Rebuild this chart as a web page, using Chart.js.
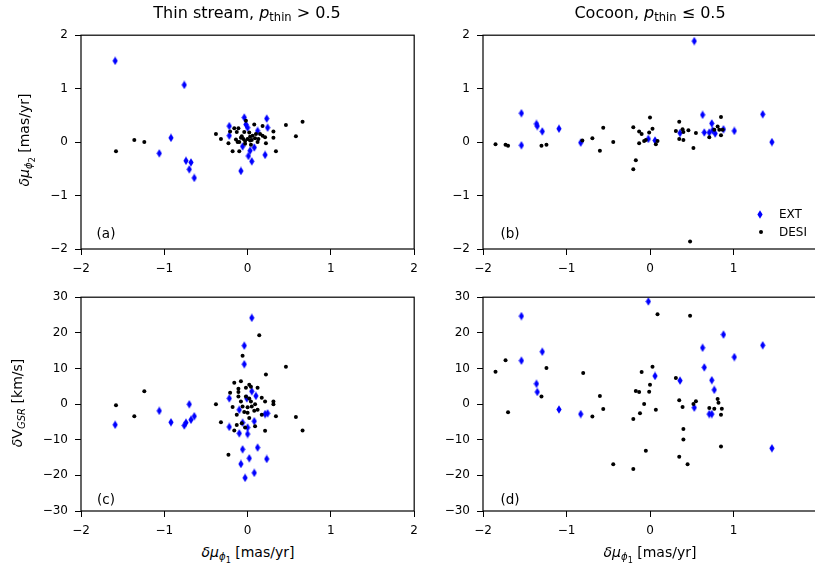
<!DOCTYPE html>
<html>
<head>
<meta charset="utf-8">
<script src="https://cdn.jsdelivr.net/npm/chart.js@4.4.0/dist/chart.umd.min.js"></script>
<style>
  html, body { margin: 0; padding: 0; background: #fff; overflow: hidden; }
  body { width: 815px; height: 569px; position: relative; font-family: "DejaVu Sans", sans-serif; color: #000; }
  canvas.panel { position: absolute; }
  .txt { position: absolute; white-space: nowrap; line-height: 1; transform: translate(-50%, -50%); }
  .left { transform: translate(0, -50%); }
  .rot { transform: translate(-50%, -50%) rotate(-90deg); }
  sub { font-size: 72%; vertical-align: -0.3em; line-height: 0; }
  sub sub { font-size: 80%; }
</style>
</head>
<body>
<canvas id="pa" class="panel"></canvas>
<canvas id="pb" class="panel"></canvas>
<canvas id="pc" class="panel"></canvas>
<canvas id="pd" class="panel"></canvas>

<div class="txt" style="left:247px;top:13px;font-size:16px">Thin stream, <i>p</i><sub>thin</sub> &gt; 0.5</div>
<div class="txt" style="left:650px;top:13px;font-size:16px">Cocoon, <i>p</i><sub>thin</sub> ≤ 0.5</div>

<div class="txt rot" style="left:25px;top:140px;font-size:14px"><i>δμ</i><sub><i>ϕ</i><sub>2</sub></sub> [mas/yr]</div>
<div class="txt rot" style="left:17px;top:403px;font-size:14px"><i>δ</i>V<sub><i>GSR</i></sub> [km/s]</div>
<div class="txt" style="left:248px;top:553px;font-size:14px"><i>δμ</i><sub><i>ϕ</i><sub>1</sub></sub> [mas/yr]</div>
<div class="txt" style="left:650px;top:553px;font-size:14px"><i>δμ</i><sub><i>ϕ</i><sub>1</sub></sub> [mas/yr]</div>

<div class="txt" style="left:106px;top:234px;font-size:13.5px">(a)</div>
<div class="txt" style="left:510px;top:234px;font-size:13.5px">(b)</div>
<div class="txt" style="left:106px;top:500px;font-size:13.5px">(c)</div>
<div class="txt" style="left:510px;top:500px;font-size:13.5px">(d)</div>

<div class="txt left" style="left:779px;top:214px;font-size:12px">EXT</div>
<div class="txt left" style="left:779px;top:232px;font-size:12px">DESI</div>

<script>
// panel (a): thin stream, proper motions
const aExtX = [-1.59, -0.76, -0.92, -1.06, -0.74, -0.68, -0.70, -0.64, -0.08, -0.04, -0.22, -0.22, 0.23, 0.24, 0.21, 0.05, 0.01, 0.03, 0.08, -0.02, 0.00, 0.12, -0.06];
const aExtY = [1.52, 1.07, 0.08, -0.21, -0.35, -0.38, -0.51, -0.67, -0.54, 0.46, 0.30, 0.12, 0.44, 0.27, -0.24, -0.36, -0.26, -0.16, -0.10, 0.33, 0.27, 0.21, -0.08];
const aDesiX = [-1.58, -1.36, -1.24, -0.38, -0.32, -0.23, -0.18, -0.10, -0.21, -0.16, -0.11, -0.13, -0.14, -0.10, -0.07, -0.04, -0.02, 0.02, 0.03, 0.05, 0.00, -0.03, -0.05, 0.08, 0.10, 0.13, 0.18, 0.18, 0.21, 0.22, 0.31, 0.31, 0.34, 0.46, 0.58, 0.66, 0.03, 0.09, -0.12, -0.03, 0.06, 0.12, -0.08, 0.15, 0.04];
const aDesiY = [-0.17, 0.04, 0.00, 0.15, 0.06, -0.02, -0.17, -0.17, 0.20, 0.26, 0.26, 0.19, 0.05, 0.00, 0.11, 0.19, 0.40, 0.18, 0.10, 0.04, 0.06, 0.02, 0.06, 0.33, 0.15, 0.06, 0.30, 0.12, 0.09, -0.02, 0.20, 0.08, -0.17, 0.32, 0.11, 0.38, 0.03, 0.07, 0.00, -0.03, 0.12, 0.00, 0.08, 0.15, -0.05];

// panel (b): cocoon, proper motions
const bExtX = [-1.54, -1.54, -1.36, -1.35, -1.29, -1.09, -0.83, -0.02, 0.06, 0.36, 0.53, 0.63, 0.65, 0.71, 0.74, 0.75, 0.78, 0.88, 1.01, 1.35, 1.46];
const bExtY = [0.54, -0.06, 0.34, 0.30, 0.20, 0.25, -0.01, 0.06, 0.03, 0.17, 1.89, 0.51, 0.18, 0.18, 0.35, 0.22, 0.16, 0.24, 0.21, 0.52, 0.00];
const bDesiX = [-1.85, -1.73, -1.70, -1.30, -1.24, -0.81, -0.69, -0.56, -0.60, -0.44, -0.20, -0.17, -0.20, -0.13, -0.10, -0.13, -0.07, -0.05, -0.01, 0.00, 0.03, 0.07, 0.09, 0.31, 0.35, 0.35, 0.39, 0.40, 0.40, 0.46, 0.52, 0.55, 0.48, 0.71, 0.77, 0.81, 0.83, 0.85, 0.85, 0.87];
const bDesiY = [-0.04, -0.05, -0.07, -0.07, -0.05, 0.03, 0.07, 0.27, -0.16, 0.00, 0.28, -0.34, -0.51, 0.20, 0.15, -0.02, 0.02, 0.04, 0.18, 0.46, 0.25, -0.04, 0.02, 0.21, 0.38, 0.06, 0.24, 0.19, 0.04, 0.22, -0.11, 0.17, -1.86, 0.09, 0.23, 0.29, 0.23, 0.47, 0.13, 0.23];

// panel (c): thin stream, GSR velocities
const cExtX = [-1.59, -1.06, -0.92, -0.76, -0.74, -0.68, -0.70, -0.64, 0.05, -0.04, -0.04, -0.22, -0.22, -0.10, 0.00, 0.00, -0.06, 0.12, 0.02, 0.23, -0.08, 0.08, -0.03, 0.21, 0.24, 0.08, 0.05, 0.10, -0.10, -0.06, -0.01];
const cExtY = [-5.8, -1.9, -5.1, -6.0, -5.2, -4.4, -0.05, -3.4, 24.2, 16.4, 11.2, 1.6, -6.4, -8.2, -8.4, -6.6, -12.7, -12.2, -15.2, -15.4, -16.8, -19.3, -20.7, -2.8, -2.6, -4.8, 3.6, 2.3, -1.6, -5.2, 1.6];
const cDesiX = [-1.58, -1.36, -1.24, -0.38, -0.32, -0.23, -0.16, -0.13, -0.16, -0.08, -0.06, 0.14, 0.22, 0.46, 0.34, 0.31, 0.31, 0.21, 0.58, 0.66, -0.21, -0.18, -0.11, -0.11, -0.11, -0.08, -0.06, -0.13, -0.07, -0.03, -0.02, 0.02, 0.04, 0.12, -0.02, 0.02, 0.04, 0.05, 0.09, 0.12, 0.08, 0.00, 0.02, 0.09, 0.17, 0.17, 0.21, -0.04, 0.00];
const cDesiY = [-0.3, -3.4, 3.6, -0.05, -5.1, -14.2, -7.4, -5.9, 6.0, 6.4, 13.6, 19.3, 8.3, 10.5, -3.4, 0.7, -0.05, -7.5, -3.6, -7.4, 3.2, -0.8, 4.3, 3.4, 2.1, 0.7, -0.7, -3.0, -5.4, -6.6, 4.6, 5.4, 4.9, 4.6, 2.1, 1.6, 0.7, -0.7, -0.05, -1.6, -1.9, -2.4, -3.9, -6.2, -3.0, 1.8, 0.7, -2.2, -0.9];

// panel (d): cocoon, GSR velocities
const dExtX = [-1.54, -1.54, -1.29, -1.36, -1.35, -1.09, -0.83, -0.02, 0.06, 0.36, 0.53, 0.63, 0.65, 0.74, 0.77, 0.71, 0.74, 0.88, 1.01, 1.35, 1.46];
const dExtY = [24.7, 12.2, 14.7, 5.7, 3.4, -1.5, -2.8, 28.8, 7.9, 6.6, -1.0, 15.8, 10.3, 6.7, 4.0, -2.8, -2.8, 19.5, 13.2, 16.5, -12.4];
const dDesiX = [-1.85, -1.73, -1.70, -1.30, -1.24, -0.80, -0.69, -0.60, -0.56, -0.44, -0.20, -0.20, -0.17, -0.13, -0.12, -0.10, -0.07, -0.05, -0.01, 0.00, 0.03, 0.07, 0.09, 0.31, 0.35, 0.39, 0.40, 0.40, 0.35, 0.45, 0.48, 0.52, 0.55, 0.71, 0.77, 0.81, 0.82, 0.86, 0.85, 0.85];
const dDesiY = [9.1, 12.3, -2.3, 2.1, 10.1, 8.7, -3.5, 2.3, -1.4, -16.9, -4.2, -18.2, 3.7, 3.4, -2.6, 9.0, 0.05, -13.1, 3.5, 5.4, 10.5, -1.6, 25.2, 7.3, 1.1, -0.8, -7.0, -9.9, -14.8, -16.9, 24.8, 0.0, 0.8, -1.1, -1.3, 1.4, 0.4, -1.3, -3.0, -11.9];

// axis limits and tick labels
const xRange = [-2, 2];
const xTicksLeft = [-2, -1, 0, 1, 2];
const xTicksRight = [-2, -1, 0, 1];   // the "2" tick falls outside the saved figure
const pmRange = [-2, 2];
const pmTicks = [-2, -1, 0, 1, 2];
const vRange = [-30, 30];
const vTicks = [-30, -20, -10, 0, 10, 20, 30];

// thin diamond marker like matplotlib 'd'
function diamond() {
  const c = document.createElement('canvas');
  c.width = 6; c.height = 9;
  const g = c.getContext('2d');
  g.fillStyle = '#0000ff';
  g.beginPath();
  g.moveTo(3, 0.3); g.lineTo(5.6, 4.5); g.lineTo(3, 8.7); g.lineTo(0.4, 4.5);
  g.closePath();
  g.fill();
  return c;
}
const extMarker = diamond();

// legend markers drawn the same way
(function legendMarks() {
  const d = diamond();
  d.style.cssText = 'position:absolute;left:757px;top:210px';
  document.body.appendChild(d);
  const dot = document.createElement('canvas');
  dot.width = 6; dot.height = 6;
  const g = dot.getContext('2d');
  g.fillStyle = '#000';
  g.beginPath(); g.arc(3, 3, 2, 0, Math.PI * 2); g.fill();
  dot.style.cssText = 'position:absolute;left:758px;top:229px';
  document.body.appendChild(dot);
})();

// full box around each plot area, like matplotlib spines
const frame = {
  id: 'frame',
  afterDraw(chart) {
    const { ctx, chartArea: a } = chart;
    ctx.save();
    ctx.strokeStyle = '#000';
    ctx.lineWidth = 1.2;
    ctx.strokeRect(a.left, a.top, a.right - a.left, a.bottom - a.top);
    ctx.restore();
  }
};

const fmt = v => String(v).replace('-', '\u2212');
const pts = (xs, ys) => xs.map((x, i) => ({ x: x, y: ys[i] }));

function axis(range, vals, fixed, isX) {
  return {
    type: 'linear',
    min: range[0],
    max: range[1],
    afterBuildTicks: s => { s.ticks = vals.map(v => ({ value: v })); },
    afterFit: s => { if (isX) s.height = fixed; else s.width = fixed; },
    ticks: { color: '#000', font: { family: 'DejaVu Sans', size: 12 }, padding: 7, autoSkip: false, maxRotation: 0, callback: fmt },
    grid: { drawOnChartArea: false, drawTicks: true, tickLength: 6, color: '#000', lineWidth: 1 },
    border: { display: false }
  };
}

function panel(id, left, top, yWidth, xTicks, yRange, yTicks, extX, extY, desiX, desiY) {
  const cv = document.getElementById(id);
  cv.width = yWidth + 334 + 10;
  cv.height = 10 + 218 + 30;
  cv.style.left = left + 'px';
  cv.style.top = top + 'px';
  new Chart(cv.getContext('2d'), {
    type: 'scatter',
    data: {
      datasets: [
        { label: 'EXT', data: pts(extX, extY), pointStyle: extMarker, pointRadius: 4, order: 1 },
        { label: 'DESI', data: pts(desiX, desiY), backgroundColor: '#000', borderColor: '#000', borderWidth: 0, pointRadius: 2, order: 0 }
      ]
    },
    options: {
      responsive: false,
      animation: false,
      events: [],
      layout: { padding: { top: 10, right: 10, left: 0, bottom: 0 } },
      plugins: { legend: { display: false }, tooltip: { enabled: false } },
      scales: {
        x: axis(xRange, xTicks, 30, true),
        y: axis(yRange, yTicks, yWidth, false)
      }
    },
    plugins: [frame]
  });
}

panel('pa', 0, 21, 81, xTicksLeft, pmRange, pmTicks, aExtX, aExtY, aDesiX, aDesiY);
panel('pb', 423, 21, 60, xTicksRight, pmRange, pmTicks, bExtX, bExtY, bDesiX, bDesiY);
panel('pc', 0, 283, 81, xTicksLeft, vRange, vTicks, cExtX, cExtY, cDesiX, cDesiY);
panel('pd', 423, 283, 60, xTicksRight, vRange, vTicks, dExtX, dExtY, dDesiX, dDesiY);
</script>
</body>
</html>
